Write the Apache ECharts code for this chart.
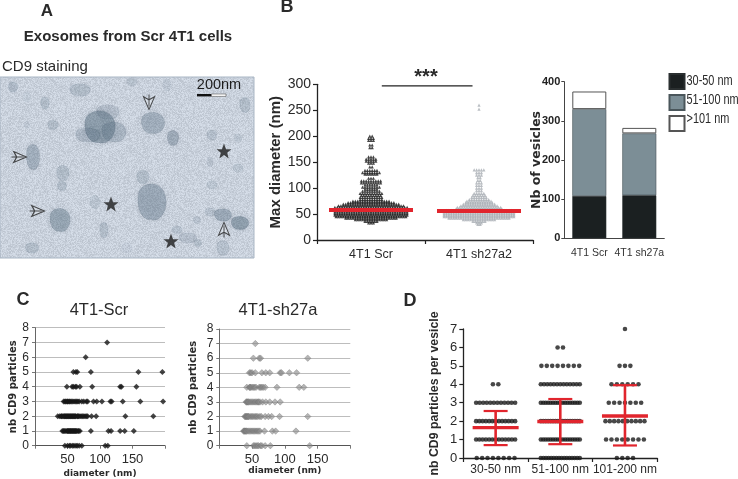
<!DOCTYPE html>
<html><head><meta charset="utf-8">
<style>html,body{margin:0;padding:0;background:#fff}#c{width:738px;height:479px}</style>
<script src="https://cdn.jsdelivr.net/npm/echarts@6/dist/echarts.min.js"></script>
</head><body><div id="c"></div>
<script>
// ---------- Panel A micrograph features [x, y, w, h, darkness]
const blobs = [[100,127,30,32,.42],[88,135,24,14,.22],[114,132,24,20,.25],[108,112,22,14,.18],[80,90,20,12,.2],[13,87,9,10,.22],[45,103,8,12,.2],[53,125,10,9,.2],[27,125,6,7,.1],
[33,157,13,25,.3],[63,173,12,15,.2],[62,186,9,9,.2],[60,220,20,23,.36],[95,202,10,13,.13],[104,230,8,15,.2],[32,248,13,10,.2],
[143,177,12,13,.2],[152,202,28,36,.34],[153,123,23,21,.3],[173,138,11,15,.32],[212,135,10,10,.16],[245,105,10,15,.2],
[238,138,8,8,.14],[210,162,6,10,.12],[238,168,10,8,.13],[212,185,10,8,.13],[223,215,17,12,.34],[210,212,10,8,.16],[240,223,17,13,.42],
[197,220,7,7,.16],[177,230,10,8,.16],[188,238,17,10,.18],[198,243,7,7,.2],[223,248,12,15,.17],[132,82,10,8,.15],[167,85,8,12,.1],[127,248,10,10,.08],[27,97,7,10,.07]];
const stars = [[224,151],[111,204],[171,241]];
const arrows = [[149,102,180],[19,157,-90],[37,211,-90],[224,230,0]];

// ---------- Panel B swarm
const scrRows   = [33,36,39,42,45,48,51,54,57,60,63,66,69,72,75,78,82,86,90,94,98,102,106,110,114,119,127,130,134,141,148,152,156,160,178,183,192,196,200];
const scrCounts = [3,6,14,22,30,31,31,31,31,31,31,28,24,20,16,10,10,9,10,8,6,8,6,9,9,3,6,8,6,2,3,5,5,3,2,2,3,3,2];
const shRows   = [30,33,36,39,42,45,48,51,54,57,60,63,66,69,72,75,78,82,86,90,95,100,105,110,115,120,125,130,135,252,260];
const shCounts = [2,3,6,14,26,30,30,30,30,28,20,19,16,14,12,11,9,7,6,5,3,3,3,3,2,2,3,3,5,1,1];
const swarmMeans = [58,56];
const swarmCats = ['4T1 Scr','4T1 sh27a2'];

// ---------- Panel B stacked bars
const barCats = ['4T1 Scr','4T1 sh27a'];
const barNames = ['30-50 nm','51-100 nm','>101 nm'];
const small = [108,110];
const mid   = [222,158];
const large = [45,14];

// ---------- Panel C scatter: diameters for each particle count
const scr = [
 [46,50,53,55,58,60,63,65,68,72,108,112],
 [42,44,45,47,49,50,51,52,53,54,55,56,57,58,59,60,61,62,63,64,66,67,69,86,113,117,131,138,152],
 [35,38,40,41,42,44,45,46,47,48,49,50,51,52,53,54,55,56,57,58,59,60,61,62,63,65,66,67,69,71,73,75,77,79,81,87,94,139,182],
 [44,46,47,49,50,51,53,54,56,58,60,62,64,66,68,72,75,79,81,90,95,103,116,118,135,162,197],
 [49,57,59,62,64,69,88,131,133,156],
 [59,63,65,86,159,196],
 [78],
 [111]
];
const sh = [
 [42,52,54,56,58,60,63,65,70,78,138],
 [37,38,39,40,41,42,44,46,48,50,52,54,56,58,60,62,69,81,86,117],
 [39,40,41,42,43,44,45,47,49,51,53,55,57,59,62,64,70,75,80,92,135],
 [41,42,43,44,45,47,49,51,53,55,57,59,60,62,66,71,77,85,93],
 [42,46,47,48,50,52,54,56,61,63,65,67,70,88,122,129],
 [46,48,50,55,65,71,77,93,95,107,118],
 [52,61,63,135],
 [55]
];
const cTicks = [50,100,150];

// ---------- Panel D dot counts per row (0,1,2,3,...) and summary
const dCats = ['30-50 nm','51-100 nm','101-200 nm'];
const dCounts = [[8,13,13,12,2],[16,17,17,17,13,8,2],[4,8,10,7,6,3,0,1]];
const dMeans = [1.65,1.98,2.28];
const dLow   = [0.7,0.75,0.68];
const dHigh  = [2.55,3.2,3.95];

// ---------- helpers
const arial = '"Liberation Sans",Arial,sans-serif';
const dejavu = '"DejaVu Sans",sans-serif';
const ink = '#2a2a2a', red = '#e1252d';
const tx = (x,y,t,size,weight,opts={}) => ({type:'text',x,y,z:20,scaleX:opts.sx||1,style:{text:t,fill:opts.fill||ink,
  font:`${weight||'normal'} ${size}px ${opts.family||arial}`,textAlign:opts.align||'center',textVerticalAlign:'middle'}});
const swarmPts = (center,rows,counts,stepUnits) => {
  const out=[]; rows.forEach((v,i)=>{const n=counts[i]; for(let k=0;k<n;k++) out.push([center+(k-(n-1)/2)*stepUnits,v]);}); return out;
};
const rowPts = rows => { const out=[]; rows.forEach((r,i)=>r.forEach(d=>out.push([d,i]))); return out; };

// noise texture for the micrograph background
function noise(){
  const c=document.createElement('canvas'); c.width=c.height=128; const g=c.getContext('2d');
  for(let y=0;y<128;y++)for(let x=0;x<128;x++){
    const h=Math.abs(Math.sin(x*12.9898+y*78.233)*43758.5453)%1;
    const v=Math.round(192+h*30);
    g.fillStyle=`rgb(${v-6},${v+2},${v+13})`; g.fillRect(x,y,1,1);
  }
  return c;
}

const axisPlain = {axisLine:{show:true,lineStyle:{color:'#222',width:1.3}},axisTick:{show:true,length:4,lineStyle:{color:'#222',width:1.2}},splitLine:{show:false}};
const hiddenX = (gridIndex,min,max,extra={}) => Object.assign({type:'value',show:false,gridIndex,min,max},extra);

const grids = [
 {left:0,top:77,width:254,height:181},            // 0 A image
 {left:317,top:84.3,width:216,height:155.7},      // 1 B swarm
 {left:564.3,top:81.7,width:100,height:156.6},    // 2 B bars
 {left:35,top:327.7,width:130,height:118},        // 3 C1
 {left:219.3,top:329,width:131,height:116.7},     // 4 C2
 {left:463.3,top:329,width:194,height:129}        // 5 D
];

const cXAxis = (gi,name,nameGap) => ({type:'value',gridIndex:gi,min:0,max:200,interval:50,
  axisLine:{show:true,lineStyle:{color:'#555',width:1}},axisTick:{show:true,length:3,inside:false,lineStyle:{color:'#777'}},splitLine:{show:false},
  axisLabel:{color:ink,fontFamily:arial,fontSize:13,margin:7,formatter:v=>cTicks.includes(v)?String(v):''},
  name,nameLocation:'middle',nameGap,nameTextStyle:{fontFamily:dejavu,fontWeight:'bold',fontSize:9,color:ink}});
const cYAxis = (gi,nameGap) => ({type:'value',gridIndex:gi,min:0,max:8,interval:1,
  axisLine:{show:true,lineStyle:{color:'#666',width:1}},axisTick:{show:true,length:3,lineStyle:{color:'#777'}},
  splitLine:{show:true,lineStyle:{color:'#bdbdbd',width:1}},
  axisLabel:{color:ink,fontFamily:arial,fontSize:12,margin:6},
  name:'nb CD9 particles',nameLocation:'middle',nameRotate:90,nameGap,nameTextStyle:{fontFamily:dejavu,fontWeight:'bold',fontSize:10,color:ink}});

const dOffsetPts = () => {
  const out=[]; dCounts.forEach((rows,g)=>rows.forEach((n,v)=>{
    const step=Math.min(5.4,39/Math.max(n-1,1));
    for(let k=0;k<n;k++) out.push([g+0.5+(k-(n-1)/2)*step/64.67,v]);
  })); return out;
};

const starPath='path://M0,-10 L2.6,-3.1 L9.5,-3.1 L4,1.2 L5.9,8.1 L0,4 L-5.9,8.1 L-4,1.2 L-9.5,-3.1 L-2.6,-3.1 Z';
const arrowPath='path://M0,-10 L6,7 L0,3 L-6,7 Z M0,-6 L0,10';
const blobPath='path://M-10,-6 C-4,-12 8,-10 10,-3 C12,4 6,11 -1,9 C-8,10 -13,2 -10,-6 Z';

const option = {
 animation:false,
 backgroundColor:'#fff',
 grid:grids.map(g=>Object.assign({containLabel:false},g)),
 xAxis:[
  hiddenX(0,0,254),
  {type:'category',gridIndex:1,data:swarmCats,...axisPlain,axisLabel:{color:ink,fontFamily:arial,fontSize:12.5,margin:8,interval:0}},
  hiddenX(1,0,2),
  {type:'category',gridIndex:2,data:barCats,axisLine:{show:true,lineStyle:{color:'#444',width:1}},axisTick:{show:false},axisLabel:{color:'#333',fontFamily:arial,fontSize:10.5,margin:9,interval:0}},
  cXAxis(3,'diameter (nm)',23),
  cXAxis(4,'diameter (nm)',20),
  {type:'category',gridIndex:5,data:dCats,...axisPlain,axisLabel:{color:ink,fontFamily:arial,fontSize:12,margin:6,interval:0}},
  hiddenX(5,0,3)
 ],
 yAxis:[
  {type:'value',show:false,gridIndex:0,min:77,max:258,inverse:true},
  {type:'value',gridIndex:1,min:0,max:300,interval:50,...axisPlain,axisLabel:{color:ink,fontFamily:arial,fontSize:14,margin:6},
   name:'Max diameter (nm)',nameLocation:'middle',nameRotate:90,nameGap:32,nameTextStyle:{fontFamily:arial,fontWeight:'bold',fontSize:15,color:ink}},
  {type:'value',gridIndex:2,min:0,max:400,interval:100,axisLine:{show:true,lineStyle:{color:'#444',width:1}},axisTick:{show:true,length:3,lineStyle:{color:'#444'}},splitLine:{show:false},
   axisLabel:{color:'#222',fontFamily:arial,fontWeight:'bold',fontSize:11,margin:4},
   name:'Nb of vesicles',nameLocation:'middle',nameRotate:90,nameGap:21,nameMoveOverlap:false,nameTextStyle:{fontFamily:dejavu,fontWeight:'bold',fontSize:12.5,color:ink}},
  cYAxis(3,17),
  cYAxis(4,21),
  {type:'value',gridIndex:5,min:0,max:7,interval:1,...axisPlain,axisLabel:{color:ink,fontFamily:arial,fontSize:13,margin:6},
   name:'nb CD9 particles per vesicle',nameLocation:'middle',nameRotate:90,nameGap:23,nameTextStyle:{fontFamily:arial,fontWeight:'bold',fontSize:12.3,color:ink}}
 ],
 legend:{left:668.5,top:73,orient:'vertical',itemWidth:15,itemHeight:15,itemGap:4,padding:0,icon:'rect',
  data:barNames,formatter:()=>'',textStyle:{fontSize:1}},
 series:[
  // A
  {type:'scatter',xAxisIndex:0,yAxisIndex:0,silent:true,z:2,symbol:blobPath,data:blobs.map(b=>({value:[b[0],b[1]],symbolSize:[b[2],b[3]],
    itemStyle:{color:`rgba(60,85,105,${b[4]})`,borderColor:`rgba(45,65,85,${Math.min(b[4]*.7,.3)})`,borderWidth:.8,shadowBlur:6,shadowColor:`rgba(60,85,105,${b[4]})`}}))},
  {type:'scatter',xAxisIndex:0,yAxisIndex:0,silent:true,z:3,symbol:starPath,symbolSize:15,itemStyle:{color:'#1d1d1d'},data:stars},
  {type:'scatter',xAxisIndex:0,yAxisIndex:0,silent:true,z:3,symbol:arrowPath,symbolSize:[11,15],
   data:arrows.map(a=>({value:[a[0],a[1]],symbolRotate:a[2]})),itemStyle:{color:'rgba(230,235,240,.5)',borderColor:'#222',borderWidth:1.1}},
  // B swarm
  {type:'scatter',xAxisIndex:2,yAxisIndex:1,silent:true,symbol:'triangle',symbolSize:3.2,itemStyle:{color:'#1a1a1a'},data:swarmPts(0.5,scrRows,scrCounts,0.0223)},
  {type:'scatter',xAxisIndex:2,yAxisIndex:1,silent:true,symbol:'triangle',symbolSize:3.2,itemStyle:{color:'#a9aeb4'},data:swarmPts(1.5,shRows,shCounts,0.0223)},
  {type:'custom',xAxisIndex:2,yAxisIndex:1,silent:true,z:5,data:swarmMeans.map((m,i)=>[i+0.5,m]),
   renderItem:(p,api)=>{const c=api.coord([api.value(0),api.value(1)]);return {type:'line',shape:{x1:c[0]-42,y1:c[1],x2:c[0]+42,y2:c[1]},style:{stroke:red,lineWidth:4}};}},
  {type:'line',xAxisIndex:2,yAxisIndex:1,silent:true,symbol:'none',clip:false,lineStyle:{color:'#222',width:1.4},data:[[0.6,297],[1.44,297]]},
  // B bars
  {name:barNames[0],type:'bar',xAxisIndex:3,yAxisIndex:2,stack:'a',barWidth:34,data:small,itemStyle:{color:'#1b2021',borderColor:'#2a2f30',borderWidth:.6}},
  {name:barNames[1],type:'bar',xAxisIndex:3,yAxisIndex:2,stack:'a',barWidth:34,data:mid,itemStyle:{color:'#7c8e96',borderColor:'#4a565b',borderWidth:.6}},
  {name:barNames[2],type:'bar',xAxisIndex:3,yAxisIndex:2,stack:'a',barWidth:34,data:large,itemStyle:{color:'#fff',borderColor:'#555',borderWidth:1}},
  // C
  {type:'scatter',xAxisIndex:4,yAxisIndex:3,silent:true,clip:false,symbol:'diamond',symbolSize:6,itemStyle:{color:'#161616'},data:rowPts(scr)},
  {type:'scatter',xAxisIndex:5,yAxisIndex:4,silent:true,clip:false,symbol:'diamond',symbolSize:6.5,itemStyle:{color:'rgba(140,140,140,.8)',borderColor:'rgba(95,95,95,.7)',borderWidth:.5},data:rowPts(sh)},
  // D
  {type:'scatter',xAxisIndex:7,yAxisIndex:5,silent:true,clip:false,symbolSize:4.6,itemStyle:{color:'#1a1a1a'},data:dOffsetPts()},
  {type:'custom',xAxisIndex:7,yAxisIndex:5,silent:true,z:5,data:dMeans.map((m,i)=>[i+0.5,m,dLow[i],dHigh[i]]),
   renderItem:(p,api)=>{
    const x=api.value(0),m=api.coord([x,api.value(1)]),l=api.coord([x,api.value(2)]),h=api.coord([x,api.value(3)]);
    const seg=(x1,y1,x2,y2,w)=>({type:'line',shape:{x1,y1,x2,y2},style:{stroke:red,lineWidth:w}});
    return {type:'group',children:[seg(m[0]-23,m[1],m[0]+23,m[1],3.4),seg(m[0],h[1],m[0],l[1],2.6),seg(m[0]-12,h[1],m[0]+12,h[1],2.2),seg(m[0]-12,l[1],m[0]+12,l[1],2.2)]};
   }}
 ],
 graphic:[
  {type:'rect',z:-1,shape:{x:0,y:77,width:254,height:181},style:{fill:{image:noise(),repeat:'repeat'},stroke:'#a9b6c4',lineWidth:1}},
  tx(47,11,'A',17,'bold'),
  tx(128,37,'Exosomes from Scr 4T1 cells',15,'bold'),
  tx(2,67,'CD9 staining',15,'normal',{align:'left'}),
  tx(219,85,'200nm',14.5,'normal',{fill:'#1c1c1c'}),
  {type:'rect',z:20,shape:{x:197,y:94,width:14.5,height:2.4},style:{fill:'#111'}},
  {type:'rect',z:20,shape:{x:211.5,y:94,width:14.5,height:2.4},style:{fill:'#fff',stroke:'#555',lineWidth:.6}},
  tx(287,7,'B',18,'bold'),
  tx(426,77,'***',20,'bold'),
  tx(23,300,'C',18,'bold'),
  tx(99,310,'4T1-Scr',16.5),
  tx(278,310,'4T1-sh27a',16.5),
  tx(410,301,'D',18,'bold'),
  tx(686.5,81,barNames[0],14,'normal',{align:'left',sx:.78}),
  tx(686.5,100.5,barNames[1],14,'normal',{align:'left',sx:.78}),
  tx(686.5,119.5,barNames[2],14,'normal',{align:'left',sx:.78})
 ]
};
const chart = echarts.init(document.getElementById('c'),null,{renderer:'canvas'});
chart.setOption(option);
</script></body></html>
